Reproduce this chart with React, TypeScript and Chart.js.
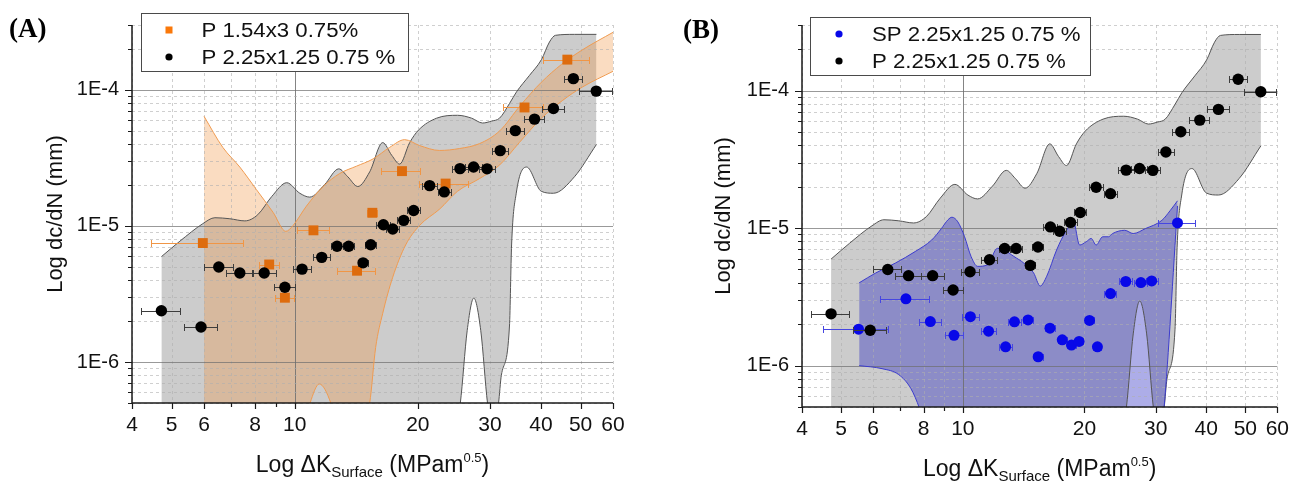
import React, { useEffect, useRef } from "react";
import { Chart, registerables } from "chart.js";

Chart.register(...registerables);

const FONT = "'Liberation Sans', Arial, Helvetica, sans-serif";

// ---------------- data ----------------
// P 2.25x1.25 0.75 % (black circles)
const pX = [4.72, 5.9, 6.52, 7.34, 8.42, 9.46, 10.42, 11.64, 12.69, 13.55, 14.69, 15.34, 16.47, 17.36, 18.47, 19.53, 21.37, 23.2, 25.35, 27.37, 29.53, 31.8, 34.62, 38.57, 42.9, 48.0, 54.6];
const pY = [2.38e-6, 1.81e-6, 5.0e-6, 4.51e-6, 4.51e-6, 3.55e-6, 4.82e-6, 5.88e-6, 7.1e-6, 7.1e-6, 5.36e-6, 7.28e-6, 1.02e-5, 9.49e-6, 1.1e-5, 1.3e-5, 1.98e-5, 1.78e-5, 2.64e-5, 2.71e-5, 2.63e-5, 3.58e-5, 5.02e-5, 6.1e-5, 7.3e-5, 1.21e-4, 9.8e-5];
const pXErr = [0.52, 0.54, 0.53, 0.56, 0.56, 0.55, 0.54, 0.54, 0.43, 0.42, 0.41, 0.48, 0.66, 0.64, 0.64, 0.67, 0.85, 0.86, 1.17, 1.26, 1.27, 1.46, 1.69, 2.2, 2.6, 2.5, 5.1];

// P 1.54x3 0.75% (orange squares)
const oX = [5.96, 8.66, 9.46, 11.11, 14.2, 15.48, 18.29, 23.38, 36.46, 46.4];
const oY = [7.49e-6, 5.21e-6, 2.97e-6, 9.29e-6, 4.69e-6, 1.25e-5, 2.53e-5, 2.05e-5, 7.43e-5, 1.67e-4];
const oXErr = [1.5, 0.5, 0.5, 1.0, 1.5, 0.45, 2.0, 3.2, 4.1, 6.0];

// SP 2.25x1.25 0.75 % (blue circles)
const sX = [5.52, 7.23, 8.31, 9.51, 10.44, 11.58, 12.76, 13.42, 14.5, 15.36, 16.43, 17.62, 18.57, 19.39, 20.58, 21.53, 23.2, 25.3, 27.58, 29.33, 33.98];
const sY = [1.84e-6, 3.06e-6, 2.09e-6, 1.66e-6, 2.27e-6, 1.78e-6, 1.37e-6, 2.08e-6, 2.15e-6, 1.16e-6, 1.87e-6, 1.54e-6, 1.41e-6, 1.5e-6, 2.13e-6, 1.37e-6, 3.34e-6, 4.09e-6, 4.02e-6, 4.13e-6, 1.09e-5];
const sXErr = [1.0, 1.0, 0.5, 0.5, 0.5, 0.5, 0.45, 0.5, 0.45, 0.4, 0.45, 0.45, 0.45, 0.45, 0.5, 0.5, 0.8, 0.9, 1.0, 1.0, 3.6];

// gray band (P 2.25x1.25)
const grayUpX = [4.72, 5.24, 5.96, 6.38, 6.94, 7.55, 8.12, 8.79, 9.56, 10.29, 10.88, 11.84, 12.81, 13.48, 14.26, 15.25, 16.41, 17.26, 18.05, 19.1, 20.09, 22.23, 25.01, 27.06, 28.79, 30.28, 31.68, 33.5, 34.85, 37.5, 40.1, 41.96, 43.4, 48.3, 54.65];
const grayUpY = [5.95e-6, 7.74e-6, 1.04e-5, 1.15e-5, 1.13e-5, 1.09e-5, 1.21e-5, 1.65e-5, 2.08e-5, 1.74e-5, 1.63e-5, 2.02e-5, 2.63e-5, 2.3e-5, 1.95e-5, 2.5e-5, 4.1e-5, 3.31e-5, 2.85e-5, 4.1e-5, 5.08e-5, 6.2e-5, 6.51e-5, 6.2e-5, 5.71e-5, 5.9e-5, 6.2e-5, 7.94e-5, 9.67e-5, 1.28e-4, 1.67e-4, 2.25e-4, 2.52e-4, 2.56e-4, 2.56e-4];
const grayLoX = [4.72, 10, 20, 24.4, 25.4, 26.4, 27.4, 28.5, 29.6, 30.5, 31.5, 32.0, 33.5, 33.9, 34.8, 36.9, 40.05, 42.9, 48.3, 54.65];
const grayLoY = [2e-7, 2e-7, 2e-7, 2.5e-7, 5e-7, 1.7e-6, 2.95e-6, 1.7e-6, 5e-7, 3e-7, 5e-7, 8e-7, 1.84e-6, 7.25e-6, 1.74e-5, 2.71e-5, 1.8e-5, 1.74e-5, 2.3e-5, 3.97e-5];

// orange band (P 1.54x3)
const orUpX = [6.0, 6.67, 7.34, 8.06, 8.85, 9.51, 9.91, 10.68, 11.73, 12.88, 14.15, 15.54, 17.06, 18.57, 20.2, 22.6, 25.3, 28.3, 31.7, 35.6, 40.1, 44.9, 50.5, 60];
const orUpY = [6.4e-5, 3.78e-5, 2.71e-5, 1.85e-5, 1.26e-5, 9.13e-6, 1.01e-5, 1.4e-5, 1.95e-5, 2.43e-5, 2.75e-5, 3.11e-5, 3.78e-5, 4.31e-5, 3.9e-5, 3.59e-5, 3.71e-5, 4.03e-5, 5.0e-5, 7.68e-5, 1.14e-4, 1.54e-4, 1.97e-4, 2.65e-4];
const orLoX = [6.0, 9.0, 10.4, 10.9, 11.48, 12.25, 12.8, 14.2, 15.25, 15.77, 16.41, 17.36, 18.67, 20.2, 22.6, 25.01, 28.3, 31.7, 35.4, 40.1, 45.1, 50.5, 60];
const orLoY = [2e-7, 2e-7, 3e-7, 5e-7, 6.9e-7, 5e-7, 3e-7, 2.5e-7, 5e-7, 1.28e-6, 2.28e-6, 4.2e-6, 7.25e-6, 1.01e-5, 1.33e-5, 1.8e-5, 2.23e-5, 2.81e-5, 4.1e-5, 6.2e-5, 8.34e-5, 1.05e-4, 1.37e-4];

// blue band (SP 2.25x1.25)
const blUpX = [5.54, 6.09, 6.81, 7.62, 8.37, 8.85, 9.19, 9.4, 9.72, 10.1, 10.48, 10.88, 11.51, 12.18, 12.65, 13.38, 14.15, 14.97, 15.54, 16.13, 17.06, 18.05, 18.8, 19.45, 20.2, 20.78, 21.37, 22.19, 22.93, 23.47, 25.16, 26.39, 28.3, 31.1, 32.58, 33.98];
const blUpY = [4.0e-6, 4.72e-6, 5.57e-6, 6.75e-6, 8.18e-6, 9.92e-6, 1.15e-5, 1.2e-5, 1.11e-5, 8.65e-6, 6.22e-6, 5.27e-6, 5.41e-6, 7.13e-6, 6.93e-6, 6.22e-6, 5.57e-6, 4.72e-6, 3.79e-6, 4.47e-6, 6.93e-6, 9.64e-6, 1.1e-5, 7.53e-6, 7.96e-6, 8.41e-6, 7.53e-6, 8.65e-6, 8.65e-6, 9.13e-6, 9.64e-6, 9.13e-6, 9.92e-6, 1.14e-5, 1.34e-5, 1.58e-5];
const blLoX = [5.54, 6.31, 6.94, 7.44, 7.81, 8.6, 20, 30.5, 31.46, 33.98];
const blLoY = [1.0e-6, 9.5e-7, 8.6e-7, 6.8e-7, 4.9e-7, 2e-7, 2e-7, 2.5e-7, 4.9e-7, 1.45e-5];

// axes
const xTickValues = [4, 5, 6, 7, 8, 9, 10, 20, 30, 40, 50, 60];
const xTickLabels = ["4", "5", "6", "", "8", "", "10", "20", "30", "40", "50", "60"];
const yTickValues = [5e-7, 6e-7, 7e-7, 8e-7, 9e-7, 1e-6, 2e-6, 3e-6, 4e-6, 5e-6, 6e-6, 7e-6, 8e-6, 9e-6, 1e-5, 2e-5, 3e-5, 4e-5, 5e-5, 6e-5, 7e-5, 8e-5, 9e-5, 1e-4, 2e-4, 3e-4];
const yMajorValues = [1e-6, 1e-5, 1e-4];
const yMajorLabels = ["1E-6", "1E-5", "1E-4"];
const X_MIN = 4, X_MAX = 60, Y_MIN = 5e-7, Y_MAX = 3e-4;

const pts = (xs: number[], ys: number[]) => xs.map((x, i) => ({ x, y: ys[i] }));
const majorIndex = (v: number) => yMajorValues.findIndex((m) => Math.abs(v / m - 1) < 1e-9);

// ---------------- styles ----------------
const BLACK = "#000000";
const ORANGE = "rgb(222,108,14)";
const BLUE = "rgb(8,8,232)";

function bandLine(xs: number[], ys: number[], border: string, fill: any, bg?: string) {
  return {
    type: "line" as const,
    data: pts(xs, ys),
    borderColor: border,
    borderWidth: 1,
    backgroundColor: bg || "transparent",
    fill,
    pointRadius: 0,
    pointHoverRadius: 0,
    cubicInterpolationMode: "monotone" as const,
    capBezierPoints: false,
  };
}

type Legend = { text: string; color: string; square: boolean };
type PanelCfg = {
  canvasLeft: number;
  canvasWidth: number;
  padTop: number;
  padRight: number;
  yAxisWidth: number;
  xAxisHeight: number;
  yTitlePad: number;
  xTitleBaseline: number;
  label: string;
  labelX: number;
  labelY: number;
  legendBox: number[];
  legendMarkerX: number;
  legendTextX: number;
  legendRowsY: number[];
  legend: Legend[];
  datasets: any[];
  errSeries: { index: number; xs: number[]; ys: number[]; errs: number[]; color: string }[];
};

function makePlugins(cfg: PanelCfg) {
  return [
    {
      id: "gridAndErr",
      beforeDatasetsDraw(chart: any) {
        const { ctx, chartArea: a, scales } = chart;
        const x = scales.x, y = scales.y;
        ctx.save();
        ctx.lineWidth = 1;
        xTickValues.forEach((v) => {
          const px = Math.round(x.getPixelForValue(v)) + 0.5;
          ctx.beginPath();
          if (v === 10) {
            ctx.setLineDash([]);
            ctx.strokeStyle = "rgba(110,110,110,0.85)";
          } else {
            ctx.setLineDash([3, 3]);
            ctx.strokeStyle = "rgba(175,175,175,0.6)";
          }
          ctx.moveTo(px, a.top);
          ctx.lineTo(px, a.bottom);
          ctx.stroke();
        });
        yTickValues.forEach((v) => {
          const py = Math.round(y.getPixelForValue(v)) + 0.5;
          ctx.beginPath();
          if (majorIndex(v) >= 0) {
            ctx.setLineDash([]);
            ctx.strokeStyle = "rgba(110,110,110,0.7)";
          } else {
            ctx.setLineDash([3, 3]);
            ctx.strokeStyle = "rgba(175,175,175,0.6)";
          }
          ctx.moveTo(a.left, py);
          ctx.lineTo(a.right, py);
          ctx.stroke();
        });
        ctx.restore();
      },
      beforeDatasetDraw(chart: any, args: any) {
        const s = cfg.errSeries.find((q) => q.index === args.index);
        if (!s) return;
        const { ctx, scales } = chart;
        const x = scales.x, y = scales.y;
        ctx.save();
        ctx.strokeStyle = s.color;
        ctx.lineWidth = 1;
        s.xs.forEach((xv, i) => {
          const py = Math.round(y.getPixelForValue(s.ys[i])) + 0.5;
          const x1 = Math.round(x.getPixelForValue(xv - s.errs[i])) + 0.5;
          const x2 = Math.round(x.getPixelForValue(xv + s.errs[i])) + 0.5;
          ctx.beginPath();
          ctx.moveTo(x1, py);
          ctx.lineTo(x2, py);
          ctx.moveTo(x1, py - 3.5);
          ctx.lineTo(x1, py + 3.5);
          ctx.moveTo(x2, py - 3.5);
          ctx.lineTo(x2, py + 3.5);
          ctx.stroke();
        });
        ctx.restore();
      },
      afterDraw(chart: any) {
        const { ctx, chartArea: a, scales } = chart;
        const x = scales.x, y = scales.y;
        ctx.save();
        // axis lines and ticks
        ctx.strokeStyle = "#1a1a1a";
        ctx.lineWidth = 1.5;
        ctx.beginPath();
        ctx.moveTo(a.left, a.top);
        ctx.lineTo(a.left, a.bottom);
        ctx.lineTo(a.right, a.bottom);
        ctx.stroke();
        ctx.lineWidth = 1.2;
        ctx.beginPath();
        xTickValues.forEach((v, i) => {
          const px = Math.round(x.getPixelForValue(v)) + 0.5;
          const len = xTickLabels[i] ? 6 : 4;
          ctx.moveTo(px, a.bottom);
          ctx.lineTo(px, a.bottom + len);
        });
        yTickValues.forEach((v) => {
          const py = Math.round(y.getPixelForValue(v)) + 0.5;
          const len = majorIndex(v) >= 0 ? 7 : 4;
          ctx.moveTo(a.left, py);
          ctx.lineTo(a.left - len, py);
        });
        ctx.stroke();

        // x axis title with sub/superscript
        const parts = [
          { t: "Log \u0394K", f: `23px ${FONT}`, dy: 0 },
          { t: "Surface", f: `15px ${FONT}`, dy: 5 },
          { t: " (MPam", f: `23px ${FONT}`, dy: 0 },
          { t: "0.5", f: `13px ${FONT}`, dy: -10 },
          { t: ")", f: `23px ${FONT}`, dy: 0 },
        ];
        let total = 0;
        const widths = parts.map((p) => {
          ctx.font = p.f;
          const w = ctx.measureText(p.t).width;
          total += w;
          return w;
        });
        let cx = (a.left + a.right) / 2 - total / 2;
        ctx.fillStyle = "#111";
        ctx.textBaseline = "alphabetic";
        ctx.textAlign = "left";
        parts.forEach((p, i) => {
          ctx.font = p.f;
          ctx.fillText(p.t, cx, cfg.xTitleBaseline + p.dy);
          cx += widths[i];
        });

        // panel label
        ctx.font = `bold 27px 'Liberation Serif', 'Times New Roman', serif`;
        ctx.fillStyle = "#000";
        ctx.fillText(cfg.label, cfg.labelX, cfg.labelY);

        // legend
        const [l, t, r, b] = cfg.legendBox;
        ctx.fillStyle = "#fff";
        ctx.fillRect(l, t, r - l, b - t);
        ctx.strokeStyle = "#4a4a4a";
        ctx.lineWidth = 1;
        ctx.strokeRect(l, t, r - l, b - t);
        cfg.legend.forEach((it, i) => {
          const cy = cfg.legendRowsY[i];
          ctx.fillStyle = it.color;
          if (it.square) {
            ctx.fillRect(cfg.legendMarkerX - 3.5, cy - 3.5, 7, 7);
          } else {
            ctx.beginPath();
            ctx.arc(cfg.legendMarkerX, cy, 3.6, 0, Math.PI * 2);
            ctx.fill();
          }
          ctx.fillStyle = "#111";
          ctx.font = `20px ${FONT}`;
          ctx.textBaseline = "middle";
          ctx.save();
          ctx.translate(cfg.legendTextX, cy + 1);
          ctx.scale(1.11, 1);
          ctx.fillText(it.text, 0, 0);
          ctx.restore();
        });
        ctx.restore();
      },
    },
  ];
}

function PanelChart({ cfg }: { cfg: PanelCfg }) {
  const ref = useRef<HTMLCanvasElement>(null);
  useEffect(() => {
    const chart = new Chart(ref.current as HTMLCanvasElement, {
      type: "scatter",
      data: { datasets: cfg.datasets },
      options: {
        animation: false,
        responsive: false,
        devicePixelRatio: 1,
        events: [],
        layout: { padding: { left: 0, right: cfg.padRight, top: cfg.padTop, bottom: 0 } },
        plugins: {
          legend: { display: false },
          tooltip: { enabled: false },
          title: { display: false },
          filler: { drawTime: "beforeDatasetsDraw", propagate: false },
        } as any,
        scales: {
          x: {
            type: "logarithmic",
            position: "bottom",
            min: X_MIN,
            max: X_MAX,
            afterBuildTicks: (s: any) => {
              s.ticks = xTickValues.map((v) => ({ value: v }));
            },
            afterFit: (s: any) => {
              s.height = cfg.xAxisHeight;
            },
            grid: { display: false, drawTicks: false },
            border: { display: false },
            ticks: {
              autoSkip: false,
              maxRotation: 0,
              minRotation: 0,
              padding: 10,
              color: "#111",
              font: { family: FONT, size: 21 },
              callback: (_v: any, i: number) => xTickLabels[i],
            },
          },
          y: {
            type: "logarithmic",
            position: "left",
            min: Y_MIN,
            max: Y_MAX,
            afterBuildTicks: (s: any) => {
              s.ticks = yTickValues.map((v) => ({ value: v }));
            },
            afterFit: (s: any) => {
              s.width = cfg.yAxisWidth;
            },
            grid: { display: false, drawTicks: false },
            border: { display: false },
            title: {
              display: true,
              text: "Log dc/dN (mm)",
              color: "#111",
              font: { family: FONT, size: 22 },
              padding: { top: cfg.yTitlePad, bottom: 0 },
            },
            ticks: {
              autoSkip: false,
              padding: 13,
              color: "#111",
              font: { family: FONT, size: 20 },
              callback: (v: any) => {
                const k = majorIndex(Number(v));
                return k >= 0 ? yMajorLabels[k] : "";
              },
            },
          },
        },
      } as any,
      plugins: makePlugins(cfg) as any,
    });
    return () => chart.destroy();
  }, []);
  return (
    <canvas
      ref={ref}
      width={cfg.canvasWidth}
      height={481}
      style={{ position: "absolute", left: cfg.canvasLeft, top: 0 }}
    />
  );
}

const blackPoints = () => ({
  type: "scatter" as const,
  data: pts(pX, pY),
  pointRadius: 5.7,
  pointHoverRadius: 5.7,
  backgroundColor: BLACK,
  borderWidth: 0,
});

const GRAY_FILL = "rgba(120,120,120,0.38)";
const GRAY_LINE = "rgb(85,85,85)";

const panelA: PanelCfg = {
  canvasLeft: 0,
  canvasWidth: 650,
  padTop: 15,
  padRight: 37,
  yAxisWidth: 132,
  xAxisHeight: 78,
  yTitlePad: 43,
  xTitleBaseline: 472,
  label: "(A)",
  labelX: 9,
  labelY: 37,
  legendBox: [141.5, 13.5, 408.5, 71.5],
  legendMarkerX: 169,
  legendTextX: 201.5,
  legendRowsY: [30, 57],
  legend: [
    { text: "P 1.54x3 0.75%", color: "rgb(250,120,10)", square: true },
    { text: "P 2.25x1.25 0.75 %", color: BLACK, square: false },
  ],
  datasets: [
    blackPoints(),
    {
      type: "scatter",
      data: pts(oX, oY),
      pointStyle: "rect",
      pointRadius: 7,
      pointHoverRadius: 7,
      backgroundColor: ORANGE,
      borderWidth: 0,
    },
    bandLine(orUpX, orUpY, "rgb(240,155,80)", "+1", "rgba(240,140,50,0.3)"),
    bandLine(orLoX, orLoY, "rgb(240,155,80)", false),
    bandLine(grayUpX, grayUpY, GRAY_LINE, "+1", GRAY_FILL),
    bandLine(grayLoX, grayLoY, GRAY_LINE, false),
  ],
  errSeries: [
    { index: 0, xs: pX, ys: pY, errs: pXErr, color: "rgb(60,60,60)" },
    { index: 1, xs: oX, ys: oY, errs: oXErr, color: "rgb(240,150,70)" },
  ],
};

const panelB: PanelCfg = {
  canvasLeft: 650,
  canvasWidth: 649,
  padTop: 19,
  padRight: 16,
  yAxisWidth: 152,
  xAxisHeight: 74,
  yTitlePad: 61,
  xTitleBaseline: 476,
  label: "(B)",
  labelX: 33,
  labelY: 38,
  legendBox: [160.5, 17.5, 440.5, 75.5],
  legendMarkerX: 189,
  legendTextX: 222,
  legendRowsY: [34, 61],
  legend: [
    { text: "SP 2.25x1.25 0.75 %", color: BLUE, square: false },
    { text: "P 2.25x1.25 0.75 %", color: BLACK, square: false },
  ],
  datasets: [
    blackPoints(),
    {
      type: "scatter",
      data: pts(sX, sY),
      pointRadius: 5.5,
      pointHoverRadius: 5.5,
      backgroundColor: BLUE,
      borderWidth: 0,
    },
    bandLine(blUpX, blUpY, "rgb(60,60,205)", "+1", "rgba(20,20,190,0.35)"),
    bandLine(blLoX, blLoY, "rgb(60,60,205)", false),
    bandLine(grayUpX, grayUpY, GRAY_LINE, "+1", GRAY_FILL),
    bandLine(grayLoX, grayLoY, GRAY_LINE, false),
  ],
  errSeries: [
    { index: 0, xs: pX, ys: pY, errs: pXErr, color: "rgb(60,60,60)" },
    { index: 1, xs: sX, ys: sY, errs: sXErr, color: "rgb(70,70,225)" },
  ],
};

export default function App() {
  return (
    <div
      style={{
        position: "absolute",
        left: 0,
        top: 0,
        width: 1299,
        height: 481,
        overflow: "hidden",
        background: "#fff",
      }}
    >
      <PanelChart cfg={panelA} />
      <PanelChart cfg={panelB} />
    </div>
  );
}
